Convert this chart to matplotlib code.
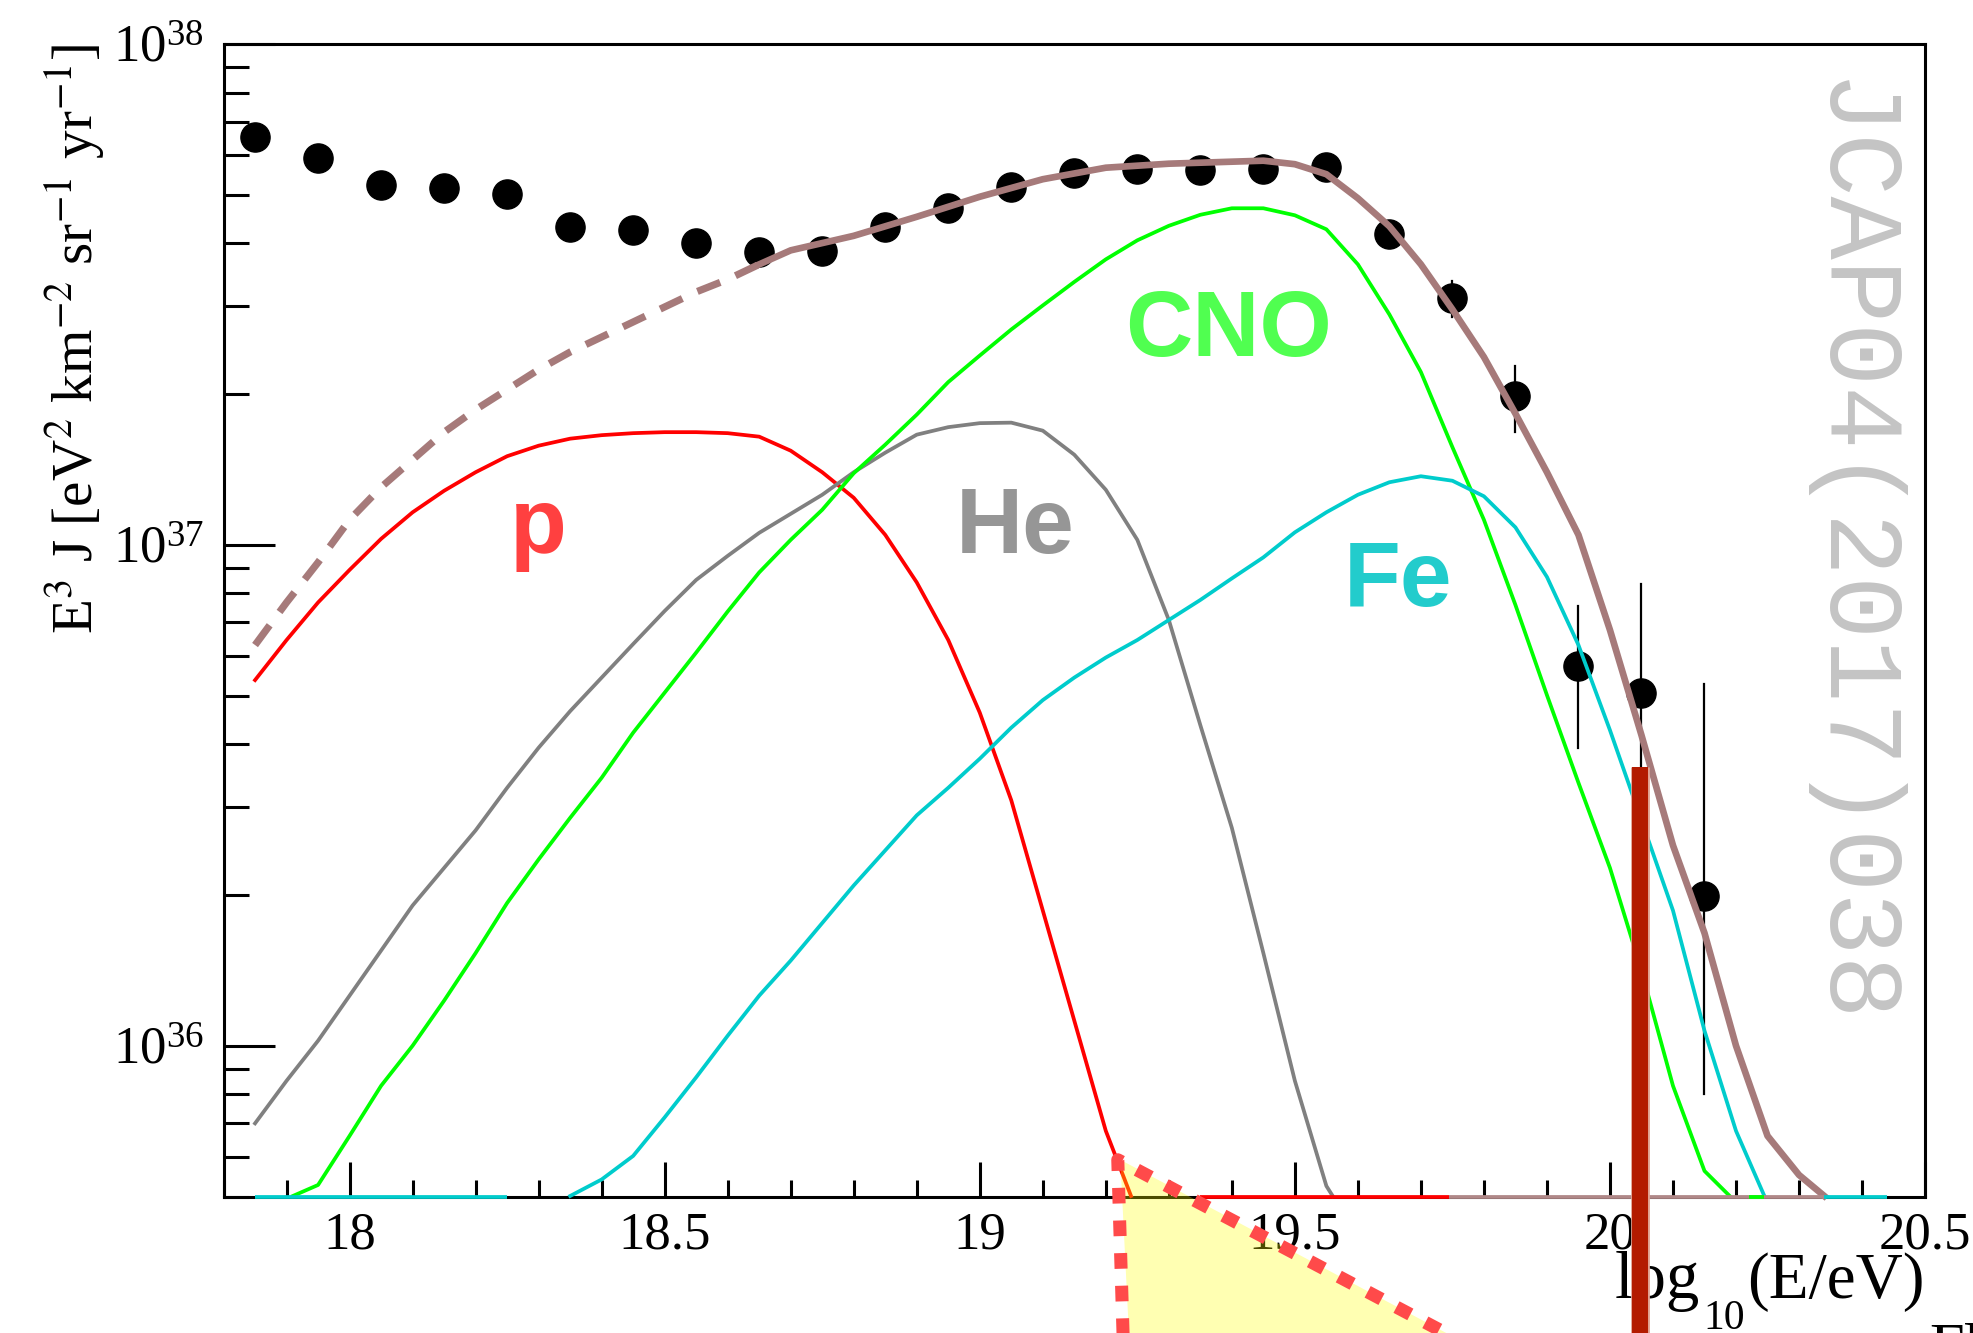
import numpy as np
import matplotlib
matplotlib.use('Agg')
import matplotlib.pyplot as plt
from matplotlib.ticker import MultipleLocator, LogLocator, NullFormatter

plt.rcParams['font.family'] = ['Liberation Serif', 'DejaVu Serif']
plt.rcParams['mathtext.fontset'] = 'stix'

# ---- data (log10 of E^3 J) ----
data_x = [17.85, 17.95, 18.05, 18.15, 18.25, 18.35, 18.45, 18.55, 18.65, 18.75,
          18.85, 18.95, 19.05, 19.15, 19.25, 19.35, 19.45, 19.55, 19.65, 19.75,
          19.85, 19.95, 20.05, 20.15]
data_log = [37.814, 37.773, 37.718, 37.713, 37.700, 37.634, 37.629, 37.602, 37.585, 37.587,
            37.634, 37.673, 37.715, 37.743, 37.750, 37.749, 37.750, 37.755, 37.620, 37.492,
            37.297, 36.758, 36.705, 36.299]
err_hi_log = [None] * 19 + [37.526, 37.358, 36.878, 36.922, 36.723]
err_lo_log = [None] * 19 + [37.454, 37.226, 36.595, 36.400, 35.904]

p_x = [17.85, 17.90, 17.95, 18.00, 18.05, 18.10, 18.15, 18.20, 18.25, 18.30, 18.35, 18.40,
       18.45, 18.50, 18.55, 18.60, 18.65, 18.70, 18.75, 18.80, 18.85, 18.90, 18.95, 19.00,
       19.05, 19.10, 19.15, 19.20, 19.24]
p_log = [36.73, 36.81, 36.885, 36.95, 37.012, 37.065, 37.108, 37.145, 37.177, 37.198, 37.212,
         37.219, 37.223, 37.225, 37.225, 37.223, 37.216, 37.188, 37.145, 37.094, 37.02, 36.925,
         36.81, 36.665, 36.49, 36.27, 36.05, 35.83, 35.70]

he_x = [17.85, 17.90, 17.95, 18.00, 18.05, 18.10, 18.15, 18.20, 18.25, 18.30, 18.35, 18.40,
        18.45, 18.50, 18.55, 18.60, 18.65, 18.70, 18.75, 18.80, 18.85, 18.90, 18.95, 19.00,
        19.05, 19.10, 19.15, 19.20, 19.25, 19.30, 19.35, 19.40, 19.45, 19.50, 19.55, 19.56]
he_log = [35.845, 35.93, 36.01, 36.10, 36.19, 36.28, 36.355, 36.43, 36.515, 36.595, 36.668,
          36.735, 36.802, 36.868, 36.93, 36.978, 37.024, 37.062, 37.100, 37.145, 37.184, 37.220,
          37.235, 37.243, 37.244, 37.228, 37.18, 37.11, 37.01, 36.85, 36.64, 36.435, 36.185,
          35.93, 35.72, 35.70]

cno_x = [17.91, 17.95, 18.00, 18.05, 18.10, 18.15, 18.20, 18.25, 18.30, 18.35, 18.40, 18.45,
         18.50, 18.55, 18.60, 18.65, 18.70, 18.75, 18.80, 18.85, 18.90, 18.95, 19.00, 19.05,
         19.10, 19.15, 19.20, 19.25, 19.30, 19.35, 19.40, 19.45, 19.50, 19.55, 19.60, 19.65,
         19.70, 19.75, 19.80, 19.85, 19.90, 19.95, 20.00, 20.05, 20.10, 20.15, 20.19]
cno_log = [35.70, 35.722, 35.82, 35.92, 36.00, 36.09, 36.185, 36.285, 36.372, 36.455, 36.535,
           36.625, 36.705, 36.785, 36.867, 36.945, 37.01, 37.07, 37.143, 37.20, 37.26, 37.325,
           37.378, 37.43, 37.478, 37.525, 37.57, 37.608, 37.637, 37.659, 37.672, 37.672, 37.658,
           37.630, 37.56, 37.46, 37.345, 37.195, 37.05, 36.88, 36.70, 36.525, 36.355, 36.15,
           35.92, 35.75, 35.70]

fe_x = [18.35, 18.40, 18.45, 18.50, 18.55, 18.60, 18.65, 18.70, 18.75, 18.80, 18.85, 18.90,
        18.95, 19.00, 19.05, 19.10, 19.15, 19.20, 19.25, 19.30, 19.35, 19.40, 19.45, 19.50,
        19.55, 19.60, 19.65, 19.70, 19.75, 19.80, 19.85, 19.90, 19.95, 20.00, 20.05, 20.10,
        20.15, 20.20, 20.245]
fe_log = [35.70, 35.733, 35.78, 35.857, 35.937, 36.02, 36.10, 36.17, 36.245, 36.32, 36.39,
          36.46, 36.515, 36.573, 36.635, 36.69, 36.735, 36.775, 36.81, 36.85, 36.89, 36.933,
          36.975, 37.025, 37.065, 37.10, 37.125, 37.137, 37.128, 37.097, 37.035, 36.936, 36.80,
          36.63, 36.45, 36.27, 36.03, 35.83, 35.70]

tot_x = [17.85, 17.90, 17.95, 18.00, 18.05, 18.10, 18.15, 18.20, 18.25, 18.30, 18.35, 18.40,
         18.45, 18.50, 18.55, 18.60, 18.65, 18.70, 18.80, 18.90, 19.00, 19.10, 19.20, 19.30,
         19.40, 19.45, 19.50, 19.55, 19.60, 19.65, 19.70, 19.75, 19.80, 19.85, 19.90, 19.95,
         20.00, 20.05, 20.10, 20.15, 20.20, 20.25, 20.30, 20.34]
tot_log = [36.80, 36.885, 36.965, 37.05, 37.115, 37.17, 37.225, 37.27, 37.31, 37.35, 37.385,
           37.415, 37.445, 37.475, 37.505, 37.53, 37.56, 37.588, 37.617, 37.655, 37.695, 37.730,
           37.753, 37.761, 37.765, 37.767, 37.760, 37.740, 37.692, 37.636, 37.560, 37.470,
           37.375, 37.262, 37.145, 37.02, 36.83, 36.62, 36.40, 36.225, 36.00, 35.82, 35.742, 35.70]
tot_dash_end = 18.65

# pieces of curves lying on the lower frame (start, end, colour)
floor_segments = [(17.85, 18.25, '#00cccc'), (19.35, 19.745, '#ff0000'),
                  (19.745, 20.34, '#b08888'), (20.22, 20.245, '#00ff00'),
                  (20.34, 20.44, '#00cccc')]

labels = ['p', 'He', 'CNO', 'Fe']
label_x = [18.30, 19.056, 19.395, 19.663]
label_log = [36.984, 36.984, 37.377, 36.878]
label_colors = ['#ff4040', '#969696', '#50ff50', '#22cccc']

xtick_vals = [18, 18.5, 19, 19.5, 20, 20.5]
xtick_labels = ['18', '18.5', '19', '19.5', '20', '20.5']
ytick_vals = [1e36, 1e37, 1e38]

y_floor = 5e35
y_top = 1e38

# overlay pieces from the neighbouring panel
bar_x = 20.048
bar_top = 3.6e36
tri_x = [19.2435, 19.223, 20.00]
tri_y = [1.79e35, 5.92e35, 1.79e35]

fig = plt.figure(figsize=(19.73, 13.33), dpi=100)
ax = fig.add_axes([0.1133, 0.1024, 0.8624, 0.8646])
ax.set_yscale('log')
ax.set_xlim(17.8, 20.5)
ax.set_ylim(y_floor, y_top)

# data points with error bars
dx = np.array(data_x)
dy = 10 ** np.array(data_log)
ax.plot(dx, dy, 'o', color='black', markersize=21, zorder=3)
for x, lo, hi in zip(data_x, err_lo_log, err_hi_log):
    if lo is not None:
        ax.plot([x, x], [10 ** lo, 10 ** hi], color='black', lw=1.6, zorder=3)

# model curves
ax.plot(p_x, 10 ** np.array(p_log), color='#ff0000', lw=2.7, zorder=4, clip_on=False)
ax.plot(he_x, 10 ** np.array(he_log), color='#808080', lw=2.7, zorder=4, clip_on=False)
ax.plot(cno_x, 10 ** np.array(cno_log), color='#00ff00', lw=2.7, zorder=4, clip_on=False)
ax.plot(fe_x, 10 ** np.array(fe_log), color='#00cccc', lw=2.7, zorder=4, clip_on=False)

tx = np.array(tot_x)
ty = 10 ** np.array(tot_log)
m_dash = tx <= tot_dash_end
m_solid = tx >= tot_dash_end
ax.plot(tx[m_dash], ty[m_dash], color='#a67a7a', lw=5.2, ls=(0, (3.4, 2.3)),
        dash_capstyle='butt', zorder=5)
ax.plot(tx[m_solid], ty[m_solid], color='#a67a7a', lw=4.8, zorder=5, clip_on=False)

for x0, x1, c in floor_segments:
    ax.plot([x0, x1], [y_floor, y_floor], color=c, lw=2.7, zorder=6,
            clip_on=False, solid_capstyle='butt')

for t, x, ly, c in zip(labels, label_x, label_log, label_colors):
    ax.text(x, 10 ** ly, t, color=c, fontsize=67, fontweight='bold',
            family='Liberation Sans', ha='center', va='baseline', zorder=6)

# axes styling
ax.set_xticks(xtick_vals)
ax.set_xticklabels(xtick_labels)
ax.xaxis.set_minor_locator(MultipleLocator(0.1))
ax.set_yticks(ytick_vals)
ax.yaxis.set_minor_locator(LogLocator(base=10, subs=np.arange(2, 10)))
ax.yaxis.set_minor_formatter(NullFormatter())
ax.tick_params(axis='x', which='major', direction='in', length=25, width=2.2,
               labelsize=38, pad=11, top=False)
ax.tick_params(axis='x', which='minor', direction='in', length=12, width=2.2, top=False)
ax.tick_params(axis='y', which='major', direction='in', length=37, width=2.2,
               labelsize=38, pad=14, right=False)
ax.tick_params(axis='y', which='minor', direction='in', length=18, width=2.2, right=False)
for s in ax.spines.values():
    s.set_linewidth(2.2)

# x title built from pieces so the subscript sits low like the original
xt_main = ax.text(1.0, -0.0881, '(E/eV)', transform=ax.transAxes, fontsize=47,
                  ha='right', va='baseline')
ax.annotate('10', xy=(0, 0), xycoords=xt_main, xytext=(-1.5, -19),
            textcoords='offset points', fontsize=30, ha='right', va='bottom')
ax.annotate('log', xy=(0, 0), xycoords=xt_main, xytext=(-34, 0),
            textcoords='offset points', fontsize=48, ha='right', va='bottom')

ax.set_ylabel('E$^{3}$ J [eV$^{2}$ km$^{-2}$ sr$^{-1}$ yr$^{-1}$]', fontsize=41, loc='top')
ax.yaxis.set_label_coords(-0.068, 1.0)

# journal watermark
fig.text(0.937, 0.585, 'JCAP04(2017)038', rotation=-90, color='#c4c4c4',
         fontsize=76, family='Liberation Mono', ha='center', va='center')

# overlapping bits of the neighbouring panel
ax.plot([bar_x, bar_x], [bar_top, 1.5e35], color='#e0a090', lw=13.5,
        solid_capstyle='butt', clip_on=False, zorder=10)
ax.plot([bar_x, bar_x], [bar_top, 1.5e35], color='#b31b00', lw=11.5,
        solid_capstyle='butt', clip_on=False, zorder=11)
ax.fill(tri_x, tri_y, color='#ffff00', alpha=0.3, lw=0, clip_on=False, zorder=12)
ax.plot(np.array(tri_x) - np.array([0.012, 0.004, 0.0]), tri_y, color='#ff4a4a', lw=9.4,
        ls=(0, (1.2, 1.3)), dash_capstyle='butt', clip_on=False, zorder=13)
fig.text(0.978, 0.0075, 'Fl', fontsize=45, ha='left', va='top', color='black')

fig.savefig('out.png', dpi=100)
